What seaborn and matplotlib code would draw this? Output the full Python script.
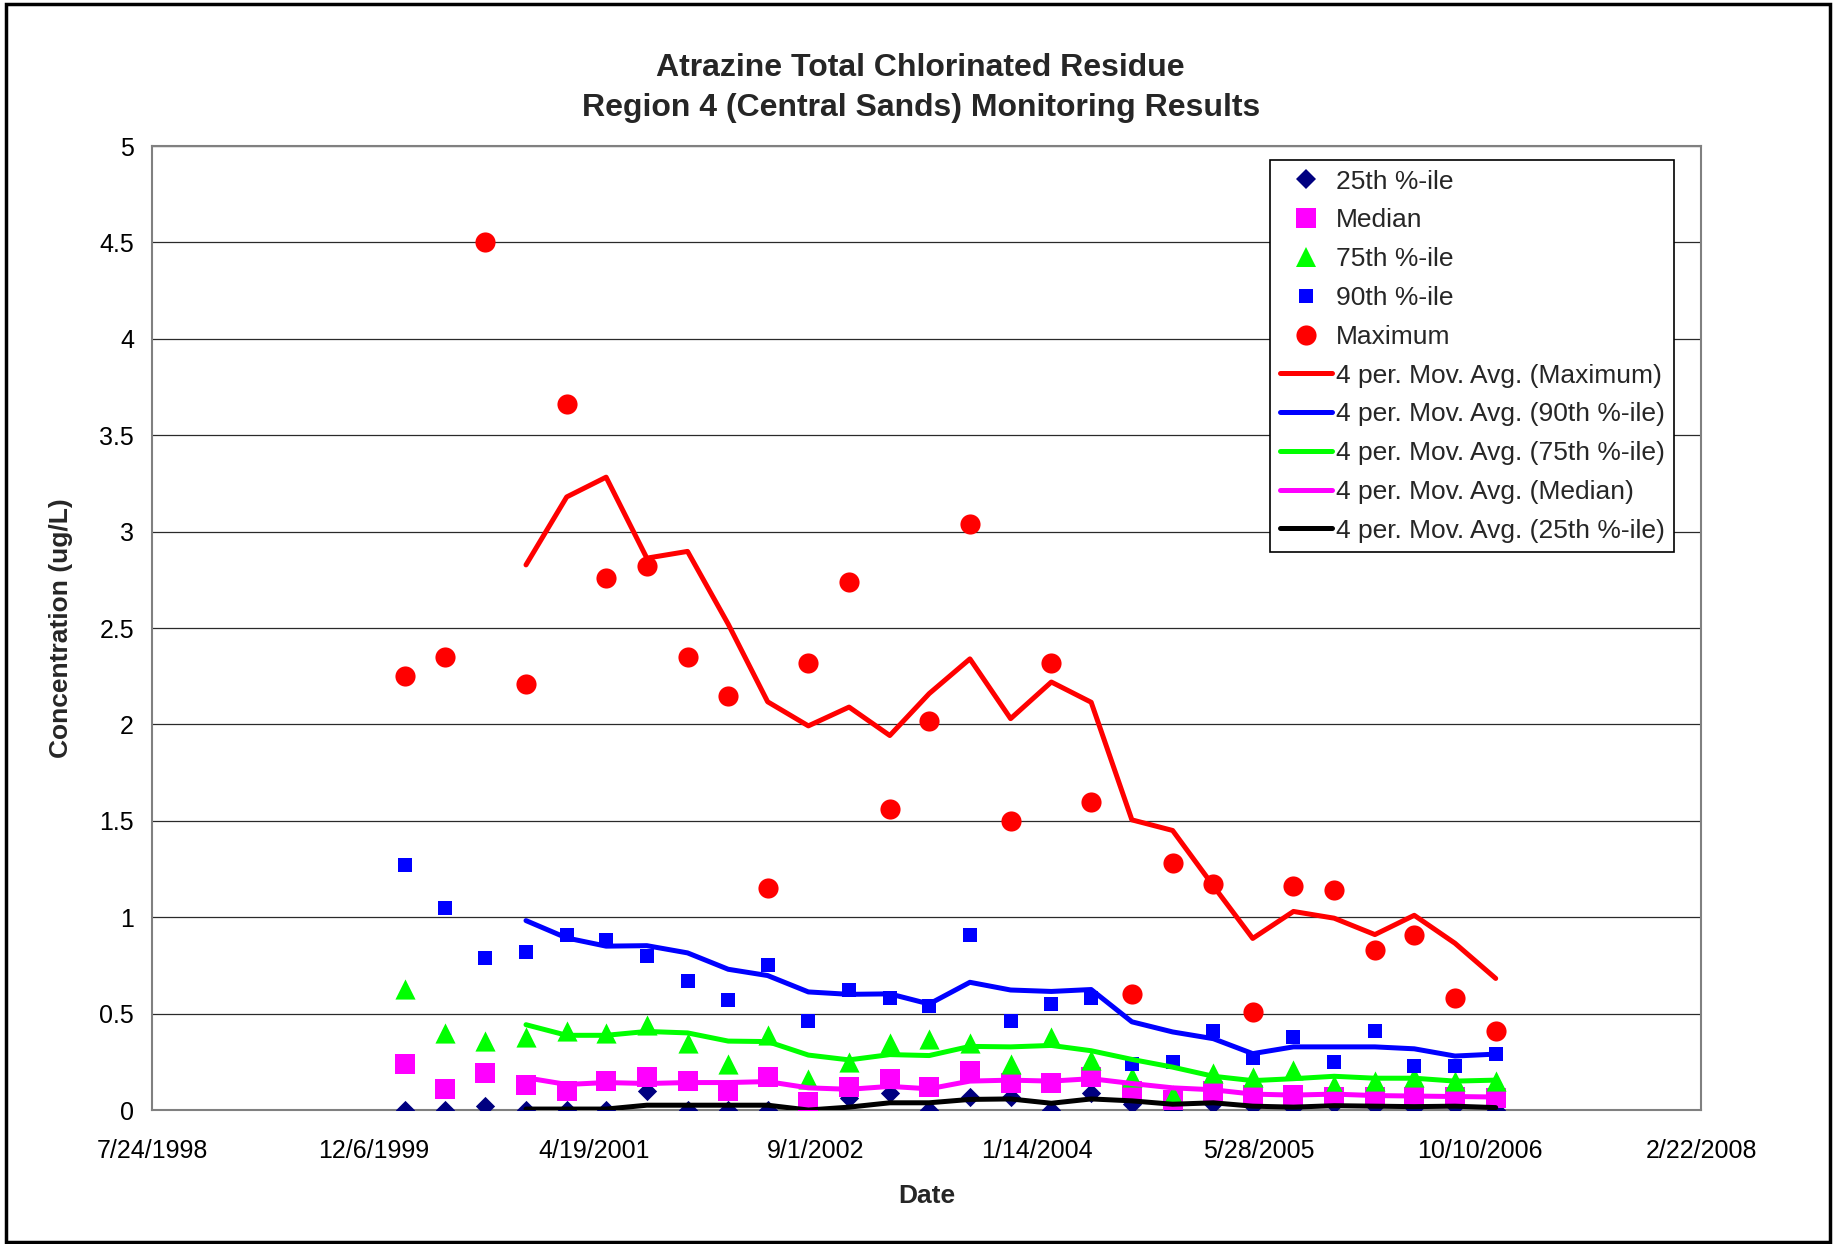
import matplotlib
matplotlib.use("Agg")
import matplotlib.pyplot as plt
import matplotlib.dates as mdates
from matplotlib.lines import Line2D
from matplotlib.patches import Rectangle
from matplotlib.ticker import FuncFormatter
from datetime import datetime
import pandas as pd
import seaborn as sns

# Quarterly sampling dates
sample_dates = [
    "2000-02-15", "2000-05-15", "2000-08-15", "2000-11-15",
    "2001-02-15", "2001-05-15", "2001-08-15", "2001-11-15",
    "2002-02-15", "2002-05-15", "2002-08-15", "2002-11-15",
    "2003-02-15", "2003-05-15", "2003-08-15", "2003-11-15",
    "2004-02-15", "2004-05-15", "2004-08-15", "2004-11-15",
    "2005-02-15", "2005-05-15", "2005-08-15", "2005-11-15",
    "2006-02-15", "2006-05-15", "2006-08-15", "2006-11-15",
]

# Concentration statistics (ug/L) for each sampling round
pct25 = [0.00, 0.00, 0.02, 0.00, 0.00, 0.00, 0.10, 0.00, 0.00, 0.00,
         0.00, 0.06, 0.09, 0.00, 0.07, 0.07, 0.00, 0.09, 0.03, 0.00,
         0.03, 0.02, 0.01, 0.03, 0.02, 0.01, 0.02, 0.00]
median = [0.24, 0.11, 0.19, 0.13, 0.10, 0.15, 0.17, 0.15, 0.10, 0.17,
          0.04, 0.12, 0.16, 0.12, 0.20, 0.14, 0.14, 0.17, 0.10, 0.05,
          0.10, 0.08, 0.08, 0.07, 0.07, 0.07, 0.07, 0.06]
pct75 = [0.63, 0.40, 0.36, 0.38, 0.41, 0.40, 0.44, 0.35, 0.24, 0.39,
         0.16, 0.25, 0.35, 0.37, 0.35, 0.24, 0.38, 0.26, 0.17, 0.08,
         0.19, 0.17, 0.21, 0.13, 0.15, 0.17, 0.15, 0.15]
pct90 = [1.27, 1.05, 0.79, 0.82, 0.91, 0.88, 0.80, 0.67, 0.57, 0.75,
         0.46, 0.62, 0.58, 0.54, 0.91, 0.46, 0.55, 0.58, 0.24, 0.25,
         0.41, 0.27, 0.38, 0.25, 0.41, 0.23, 0.23, 0.29]
maximum = [2.25, 2.35, 4.50, 2.21, 3.66, 2.76, 2.82, 2.35, 2.15, 1.15,
           2.32, 2.74, 1.56, 2.02, 3.04, 1.50, 2.32, 1.60, 0.60, 1.28,
           1.17, 0.51, 1.16, 1.14, 0.83, 0.91, 0.58, 0.41]

x_tick_labels = ["7/24/1998", "12/6/1999", "4/19/2001", "9/1/2002",
                 "1/14/2004", "5/28/2005", "10/10/2006", "2/22/2008"]
y_ticks = [0, 0.5, 1, 1.5, 2, 2.5, 3, 3.5, 4, 4.5, 5]

df = pd.DataFrame({
    "date": pd.to_datetime(sample_dates),
    "25th %-ile": pct25,
    "Median": median,
    "75th %-ile": pct75,
    "90th %-ile": pct90,
    "Maximum": maximum,
})

sns.set_style("white")
plt.rcParams["font.family"] = ["Liberation Sans", "DejaVu Sans"]

fig = plt.figure(figsize=(18.36, 12.44), dpi=100)
ax = fig.add_axes([0.0828, 0.1077, 0.8437, 0.7749])

# name, colour, marker, marker size (pt)
point_series = [
    ("25th %-ile", "#000080", "D", 9.8),
    ("Median", "#FF00FF", "s", 14.0),
    ("75th %-ile", "#00FF00", "^", 14.5),
    ("90th %-ile", "#0000FF", "s", 10.2),
    ("Maximum", "#FF0000", "o", 14.5),
]
for name, color, marker, ms in point_series:
    sns.scatterplot(data=df, x="date", y=name, ax=ax, color=color,
                    marker=marker, s=ms ** 2, linewidth=0, zorder=3)

# 4-period moving-average trendlines
trend_series = [
    ("Maximum", "#FF0000"),
    ("90th %-ile", "#0000FF"),
    ("75th %-ile", "#00FF00"),
    ("Median", "#FF00FF"),
    ("25th %-ile", "#000000"),
]
for name, color in trend_series:
    ma = df[name].rolling(4).mean()
    sns.lineplot(x=df["date"], y=ma, ax=ax, color=color, linewidth=3.6,
                 estimator=None, sort=False, zorder=4)

# Axes
x_ticks = [mdates.date2num(datetime.strptime(t, "%m/%d/%Y")) for t in x_tick_labels]
ax.set_xlim(x_ticks[0], x_ticks[-1])
ax.set_xticks(x_ticks)
ax.set_xticklabels(x_tick_labels)
ax.set_ylim(y_ticks[0], y_ticks[-1])
ax.set_yticks(y_ticks)
ax.yaxis.set_major_formatter(FuncFormatter(lambda v, p: f"{v:g}"))

ax.yaxis.grid(True, color="#2a2a2a", linewidth=0.9)
ax.xaxis.grid(False)
ax.set_axisbelow(True)
for sp in ax.spines.values():
    sp.set_color("#808080")
    sp.set_linewidth(1.5)

ax.tick_params(axis="both", direction="out", length=6, width=1,
               color="#808080", labelsize=18, labelcolor="black")
ax.tick_params(axis="y", pad=7)
ax.tick_params(axis="x", pad=15)

ax.set_xlabel("Date", fontsize=19, fontweight="bold")
ax.set_ylabel("Concentration (ug/L)", fontsize=19, fontweight="bold")
ax.xaxis.set_label_coords(0.5, -0.0765)
ax.yaxis.set_label_coords(-0.051, 0.5)

fig.suptitle("Atrazine Total Chlorinated Residue\nRegion 4 (Central Sands) Monitoring Results",
             x=0.5015, y=0.957, fontsize=23, fontweight="bold", linespacing=1.43)

# Legend: point markers first, then trendlines
handles = []
labels = []
for name, color, marker, ms in point_series:
    handles.append(Line2D([], [], linestyle="", marker=marker, color=color,
                          markersize=ms, markeredgewidth=0))
    labels.append(name)
for name, color in trend_series:
    handles.append(Line2D([], [], color=color, linewidth=3.6))
    labels.append(f"4 per. Mov. Avg. ({name})")
leg = ax.legend(handles, labels, loc="upper right",
                bbox_to_anchor=(0.912, 0.871), bbox_transform=fig.transFigure,
                borderaxespad=0, fontsize=19, frameon=True, fancybox=False,
                framealpha=1, edgecolor="black", handlelength=2.0,
                handletextpad=0.15, borderpad=0.35, labelspacing=0.56)
leg.get_frame().set_linewidth(1.2)

# Outer chart border
fig.add_artist(Rectangle((0.003, 0.002), 0.994, 0.995, transform=fig.transFigure,
                         fill=False, edgecolor="black", linewidth=2.5))

fig.savefig("out.png", dpi=100)
